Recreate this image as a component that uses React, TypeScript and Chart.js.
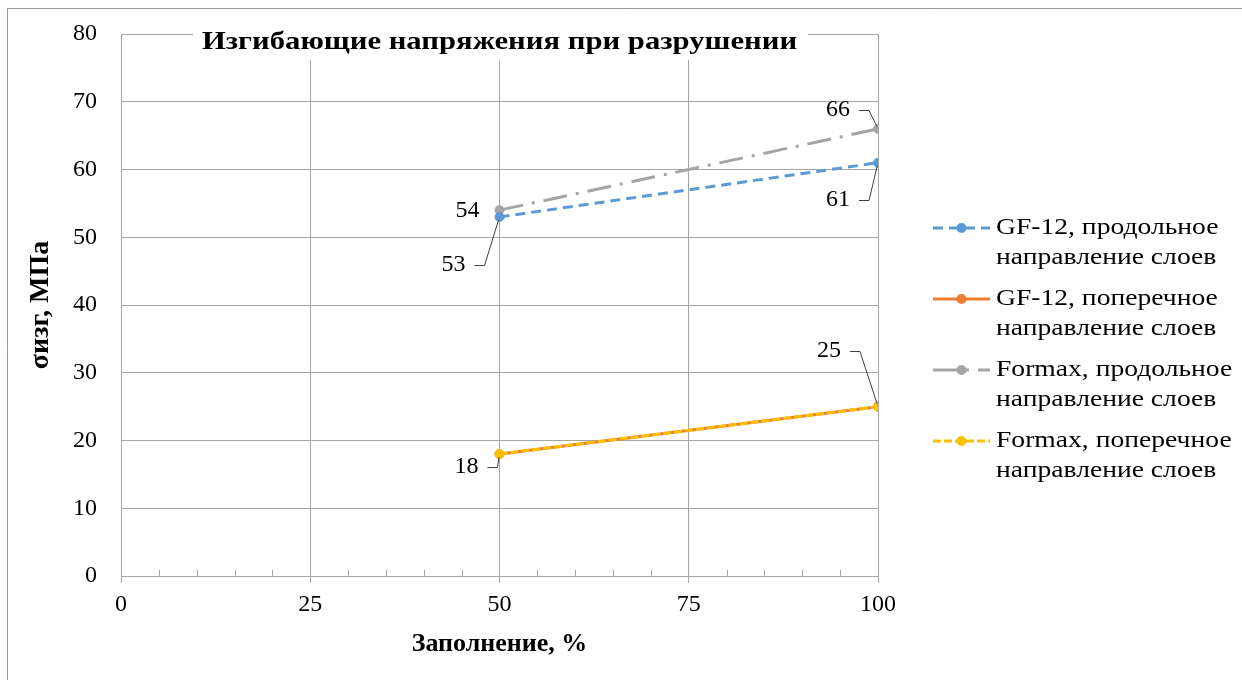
import React, { useEffect, useRef } from "react";
import { Chart, registerables } from "chart.js";

Chart.register(...registerables);

// ---- data ----
const fillPercent = [50, 100];
const gf12Longitudinal = [53, 61];
const gf12Transverse = [18, 25];
const formaxLongitudinal = [54, 66];
const formaxTransverse = [18, 25];
const seriesNames = [
  ["GF-12, продольное", "направление слоев"],
  ["GF-12, поперечное", "направление слоев"],
  ["Formax, продольное", "направление слоев"],
  ["Formax, поперечное", "направление слоев"],
];
const chartTitle = "Изгибающие напряжения при разрушении";
const xTitle = "Заполнение, %";
const yTitle = "σизг, МПа";

// ---- styles ----
const FONT = "'Liberation Serif', 'Times New Roman', serif";
const colors = ["#5B9BD5", "#ED7D31", "#A5A5A5", "#FFC000"];
const dashes: number[][] = [[10, 6], [], [24, 9, 3, 9], [8, 3]];
const drawOrder = [1, 3, 2, 0];
const GRID = "#a6a6a6";

// label placement (pixel offsets from the point, purely styling)
const labelLayout = [
  { ds: 0, idx: 0, dx: -46, dy: 48, leader: true },
  { ds: 0, idx: 1, dx: -40, dy: 37, leader: true },
  { ds: 2, idx: 0, dx: -32, dy: 1, leader: false },
  { ds: 2, idx: 1, dx: -40, dy: -19, leader: true },
  { ds: 1, idx: 0, dx: -33, dy: 13, leader: true },
  { ds: 1, idx: 1, dx: -49, dy: -56, leader: true },
];

const seriesValues = [gf12Longitudinal, gf12Transverse, formaxLongitudinal, formaxTransverse];

function scaledText(ctx: CanvasRenderingContext2D, text: string, x: number, y: number, sx: number) {
  ctx.save();
  ctx.translate(x, y);
  ctx.scale(sx, 1);
  ctx.fillText(text, 0, 0);
  ctx.restore();
}

export default function App() {
  const ref = useRef<HTMLCanvasElement>(null);

  useEffect(() => {
    document.body.style.margin = "0";
    const canvas = ref.current!;

    const framePlugin = {
      id: "frame",
      beforeDraw(chart: any) {
        const ctx = chart.ctx;
        ctx.save();
        ctx.fillStyle = "#fff";
        ctx.fillRect(0, 0, chart.width, chart.height);
        ctx.strokeStyle = "#9a9a9a";
        ctx.lineWidth = 1;
        ctx.beginPath();
        ctx.moveTo(7.5, chart.height);
        ctx.lineTo(7.5, 8.5);
        ctx.lineTo(chart.width, 8.5);
        ctx.stroke();
        ctx.restore();
      },
    };

    const minorTickPlugin = {
      id: "minorTicks",
      afterDraw(chart: any) {
        const ctx = chart.ctx;
        const xs = chart.scales.x;
        const bottom = chart.chartArea.bottom;
        ctx.save();
        ctx.strokeStyle = GRID;
        ctx.lineWidth = 1;
        ctx.beginPath();
        for (let v = xs.min + 5; v < xs.max; v += 5) {
          if (v % 25 === 0) continue;
          const px = Math.round(xs.getPixelForValue(v)) + 0.5;
          ctx.moveTo(px, bottom - 6);
          ctx.lineTo(px, bottom);
        }
        ctx.stroke();
        ctx.restore();
      },
    };

    const titlePlugin = {
      id: "customTitle",
      afterDraw(chart: any) {
        const ctx = chart.ctx;
        const ca = chart.chartArea;
        const cx = (ca.left + ca.right) / 2;
        ctx.save();
        ctx.fillStyle = "#fff";
        ctx.fillRect(193, 22, 615, 38);
        ctx.fillStyle = "#000";
        ctx.font = `bold 26px ${FONT}`;
        ctx.textAlign = "center";
        ctx.textBaseline = "middle";
        scaledText(ctx, chartTitle, cx, 42, 1.18);
        ctx.restore();
      },
    };

    const labelPlugin = {
      id: "pointLabels",
      afterDatasetsDraw(chart: any) {
        const ctx = chart.ctx;
        ctx.save();
        ctx.font = `24px ${FONT}`;
        ctx.fillStyle = "#000";
        ctx.textAlign = "center";
        ctx.textBaseline = "middle";
        for (const l of labelLayout) {
          const pt = chart.getDatasetMeta(l.ds).data[l.idx];
          const value = seriesValues[l.ds][l.idx];
          const text = String(value);
          const cx = pt.x + l.dx;
          const cy = pt.y + l.dy;
          ctx.fillText(text, cx, cy);
          if (l.leader) {
            const w = ctx.measureText(text).width;
            const k1 = cx + w / 2 + 9;
            const k2 = cx + w / 2 + 19;
            const ddx = pt.x - k2;
            const ddy = pt.y - cy;
            const len = Math.hypot(ddx, ddy);
            const ex = pt.x - (ddx / len) * 3;
            const ey = pt.y - (ddy / len) * 3;
            ctx.strokeStyle = "#404040";
            ctx.lineWidth = 1;
            ctx.beginPath();
            ctx.moveTo(k1, Math.round(cy) + 0.5);
            ctx.lineTo(k2, Math.round(cy) + 0.5);
            ctx.lineTo(ex, ey);
            ctx.stroke();
          }
        }
        ctx.restore();
      },
    };

    const legendPlugin = {
      id: "customLegend",
      afterDraw(chart: any) {
        const ctx = chart.ctx;
        ctx.save();
        const x0 = 933;
        const x1 = 990;
        const tx = 996;
        seriesNames.forEach((lines, i) => {
          const y = 228 + i * 71;
          ctx.strokeStyle = colors[i];
          ctx.lineWidth = 3;
          ctx.setLineDash(dashes[i]);
          ctx.beginPath();
          ctx.moveTo(x0, y);
          ctx.lineTo(x1, y);
          ctx.stroke();
          ctx.setLineDash([]);
          ctx.fillStyle = colors[i];
          ctx.beginPath();
          ctx.arc((x0 + x1) / 2, y, 5, 0, Math.PI * 2);
          ctx.fill();
          ctx.fillStyle = "#000";
          ctx.font = `23px ${FONT}`;
          ctx.textAlign = "left";
          ctx.textBaseline = "middle";
          lines.forEach((t, j) => scaledText(ctx, t, tx, y + j * 30, 1.2));
        });
        ctx.restore();
      },
    };

    const datasets = seriesValues.map((vals, i) => ({
      label: seriesNames[i].join(" "),
      data: fillPercent.map((x, k) => ({ x, y: vals[k] })),
      showLine: true,
      borderColor: colors[i],
      backgroundColor: colors[i],
      borderWidth: 3,
      borderDash: dashes[i],
      pointRadius: 4.5,
      pointBorderWidth: 1,
      pointBackgroundColor: colors[i],
      pointBorderColor: colors[i],
      order: drawOrder[i],
    }));

    const chart = new Chart(canvas, {
      type: "scatter",
      data: { datasets },
      options: {
        responsive: false,
        animation: false,
        layout: { padding: { top: 34, right: 364, left: 0, bottom: 0 } },
        plugins: {
          legend: { display: false },
          title: { display: false },
          tooltip: { enabled: false },
        },
        scales: {
          x: {
            type: "linear",
            min: 0,
            max: 100,
            ticks: { stepSize: 25, color: "#000", font: { family: FONT, size: 24 }, padding: 7 },
            grid: { color: GRID, tickColor: GRID, tickLength: 7, lineWidth: 1 },
            border: { color: GRID },
            title: {
              display: true,
              text: xTitle,
              color: "#000",
              font: { family: FONT, size: 26, weight: "bold" },
              padding: { top: 0, bottom: 20 },
            },
            afterFit(scale: any) {
              scale.height = 104;
              scale.paddingLeft = 0;
              scale.paddingRight = 0;
            },
          },
          y: {
            type: "linear",
            min: 0,
            max: 80,
            ticks: { stepSize: 10, color: "#000", font: { family: FONT, size: 24 }, padding: 24 },
            grid: { color: GRID, drawTicks: false, lineWidth: 1 },
            border: { color: GRID },
            title: {
              display: true,
              text: yTitle,
              color: "#000",
              font: { family: FONT, size: 28, weight: "bold" },
              padding: { top: 24, bottom: 0 },
            },
            afterFit(scale: any) {
              scale.width = 121;
              scale.paddingTop = 0;
              scale.paddingBottom = 0;
            },
          },
        },
      } as any,
      plugins: [framePlugin, minorTickPlugin, titlePlugin, labelPlugin, legendPlugin],
    });

    return () => chart.destroy();
  }, []);

  return (
    <div style={{ width: 1242, height: 680 }}>
      <canvas ref={ref} width={1242} height={680} style={{ display: "block" }} />
    </div>
  );
}
